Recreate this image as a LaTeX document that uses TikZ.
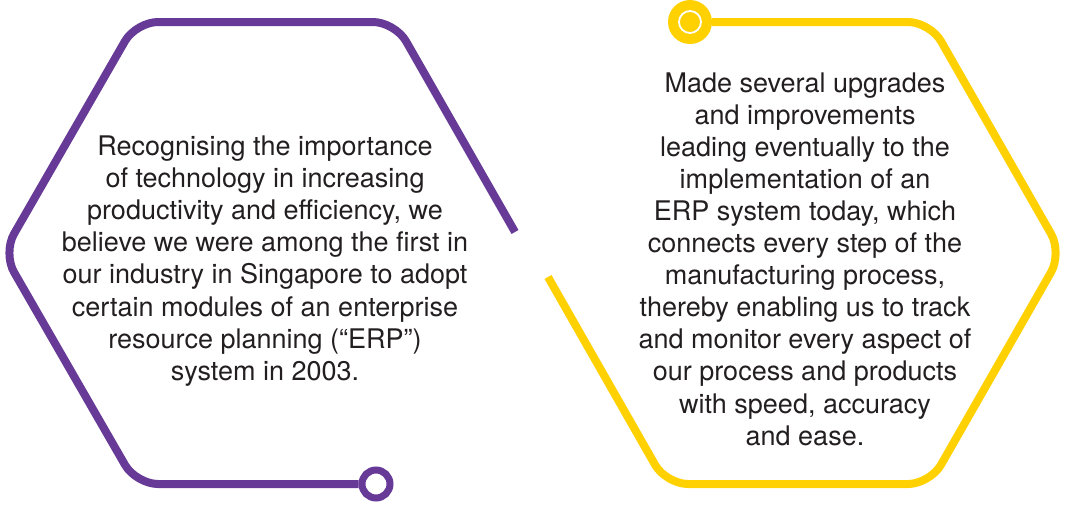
\documentclass[tikz,border=0pt]{standalone}
\usepackage{fontspec}
\setmainfont{TeX Gyre Heros}
\usepackage{tikz}
\usetikzlibrary{positioning}

\definecolor{erppurple}{RGB}{102,58,150}
\definecolor{erpyellow}{RGB}{255,209,0}
\definecolor{erptext}{RGB}{35,31,32}

\begin{document}
\begin{tikzpicture}[
    x=1pt, y=-1pt,
    hexline/.style={
        line width=8pt,
        rounded corners=22pt,
        line cap=butt
    },
    blurb/.style={
        text=erptext,
        align=center,
        inner sep=0pt,
        font=\fontsize{27pt}{32.1pt}\selectfont
    }
]
\useasboundingbox (0,0) rectangle (1065,506);

% left hexagon
\node[circle, draw=erppurple, line width=7pt, fill=white,
    minimum size=28pt, inner sep=0pt] (purplering) at (376,484) {};
\coordinate (purpleend) at (515,232);
\draw[hexline, draw=erppurple] (purplering.west) -- (136,484) -- (3,253)
    -- (136,22) -- (395,22) -- (purpleend);

% right hexagon
\node[circle, fill=erpyellow, minimum size=44pt, inner sep=0pt]
    (yellowdot) at (690,22) {};
\draw[white, line width=1.8pt] (yellowdot.center) circle (11pt);
\coordinate (yellowend) at (548,277);
\draw[hexline, draw=erpyellow] (yellowdot.east) -- (930,22) -- (1062,253)
    -- (930,484) -- (666,484) -- (yellowend);

\node[blurb] (lefttext) at (265,261)
    {Recognising the importance\\of technology in increasing\\productivity and efficiency, we\\believe we were among the first in\\our industry in Singapore to adopt\\certain modules of an enterprise\\resource planning (“ERP”)\\system in 2003.};
\node[blurb] (righttext) at (805,259)
    {Made several upgrades\\and improvements\\leading eventually to the\\implementation of an\\ERP system today, which\\connects every step of the\\manufacturing process,\\thereby enabling us to track\\and monitor every aspect of\\our process and products\\with speed, accuracy\\and ease.};

\end{tikzpicture}
\end{document}
